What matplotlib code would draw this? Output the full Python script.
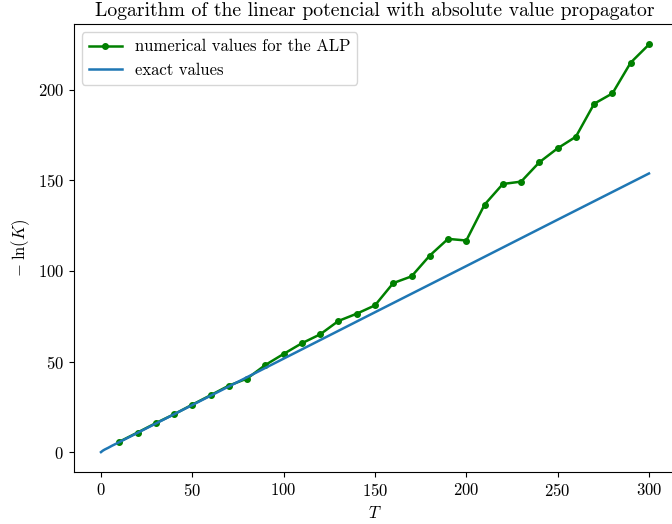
import matplotlib
matplotlib.use("Agg")
import matplotlib.pyplot as plt

plt.rcParams["font.family"] = "serif"
plt.rcParams["font.serif"] = ["cmr10"]
plt.rcParams["mathtext.fontset"] = "cm"
plt.rcParams["axes.formatter.use_mathtext"] = True
plt.rcParams["axes.unicode_minus"] = False

# valores numéricos (ALP)
t_num = [10, 20, 30, 40, 50, 60, 70, 80, 90, 100,
         110, 120, 130, 140, 150, 160, 170, 180, 190, 200,
         210, 220, 230, 240, 250, 260, 270, 280, 290, 300]
k_num = [5.7, 10.8, 16.0, 20.9, 26.2, 31.4, 36.7, 40.6, 48.1, 54.2,
         60.1, 65.0, 72.4, 76.4, 81.0, 93.3, 97.0, 108.5, 117.7, 116.8,
         136.6, 148.0, 149.3, 160.0, 167.7, 174.1, 192.3, 198.0, 215.0, 225.0]

# valores exactos
t_exact = [0, 1, 2, 4, 6, 8, 10, 50, 100, 150, 200, 250, 300]
k_exact = [0.0, 0.8, 1.4, 2.4, 3.5, 4.5, 5.5, 26.0, 51.6, 77.2, 102.7, 128.3, 153.8]

fig = plt.figure(figsize=(6.72, 5.24), dpi=100)
ax = fig.add_axes([0.1095, 0.0983, 0.897, 0.8557])

ax.plot(t_num, k_num, 'o-', color='green', linewidth=1.8, markersize=4,
        label='numerical values for the ALP')
ax.plot(t_exact, k_exact, '-', color='#1f77b4', linewidth=1.8, label='exact values')

ax.set_xlabel('$T$', fontsize=12)
ax.set_ylabel(r'$-\;\ln(K)$', fontsize=12)
ax.set_title('Logarithm of the linear potencial with absolute value propagator', fontsize=14.2)
ax.tick_params(labelsize=12)
ax.legend(loc='upper left', fontsize=12)

fig.savefig('out.png', dpi=100)
